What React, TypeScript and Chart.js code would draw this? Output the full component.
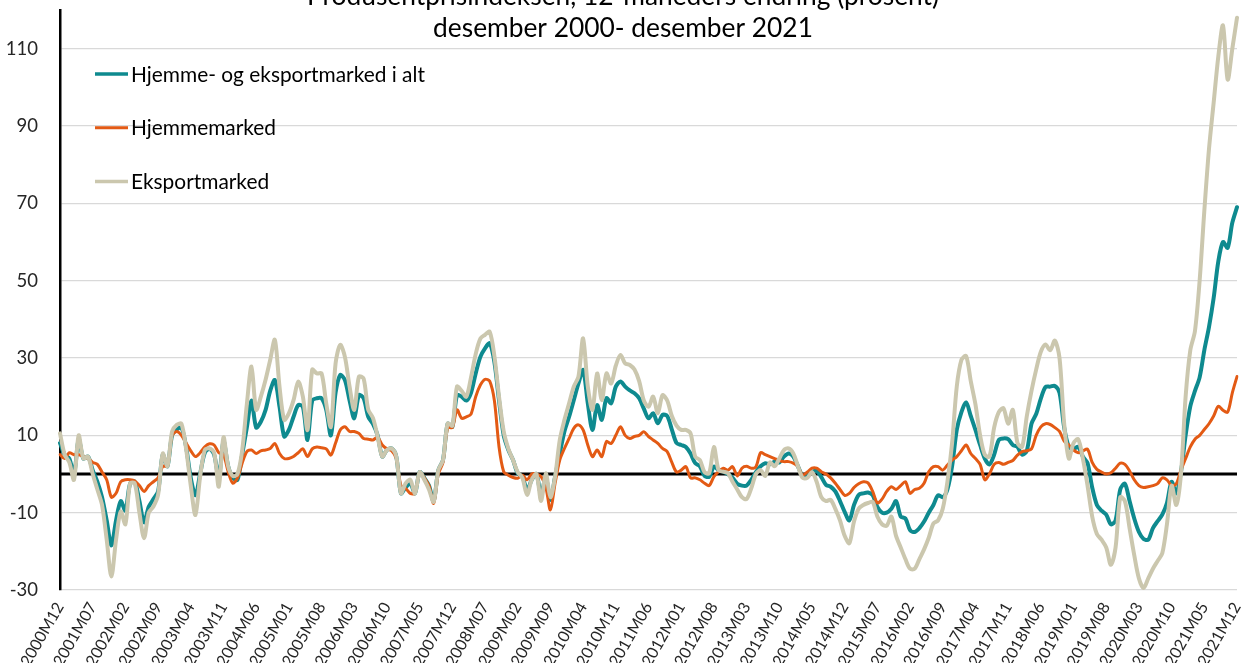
import React, { useEffect, useRef } from 'react';
import { Chart, registerables } from 'chart.js';

Chart.register(...registerables);

const titleLines = [
  'Produsentprisindeksen, 12-måneders endring (prosent)',
  'desember 2000- desember 2021',
];
const seriesNames = ['Hjemme- og eksportmarked i alt', 'Hjemmemarked', 'Eksportmarked'];
const seriesColors = ['#0e8a8f', '#e35a14', '#cbc7ae'];
const yTicks = [-30, -10, 10, 30, 50, 70, 90, 110];
const firstYear = 2000;
const firstMonth = 12;
const monthCount = 253;
const labelEvery = 7;

const months: string[] = [];
for (let k = 0; k < monthCount; k++) {
  const m0 = firstMonth - 1 + k;
  const yr = firstYear + Math.floor(m0 / 12);
  const mo = (m0 % 12) + 1;
  months.push(`${yr}M${mo < 10 ? '0' + mo : mo}`);
}

const totalValues = [
  8, 5, 4, 0, 9, 4, 4.5, 1, -2, -6, -12, -18.5, -12,
  -7, -9.5, -2.5, -2, -7, -12.5, -8.5, -6.5, -4.5, 5, 2, 10,
  11.5, 12, 7, -1, -5.5, 0, 5.5, 6.5, 5, -1, 8.5, 2,
  -1, -1.5, 5, 12, 19, 12, 13.5, 16.5, 21.5, 24.3, 17.4, 9.7,
  11.4, 14.8, 17.8, 17.4, 8.8, 19, 19.6, 19.6, 16.6, 10, 21, 25.6,
  24.3, 19, 14.4, 20.4, 19.6, 14.8, 13, 10, 4.5, 6.2, 6.6, 4.5,
  -5, -3.5, -2.5, -5, 0.5, -1, -3, -7, 1, 3.6, 13, 12.2,
  20.4, 20, 19, 21, 26, 30.3, 32.5, 33.8, 29, 19, 10, 6.2,
  3.6, 0.2, -0.7, -4.1, -1.5, 0, -5.4, -0.7, -6.7, -0.7, 5.3, 11,
  14.8, 19.1, 23.4, 26.9, 18.3, 11.4, 17.8, 14, 19.6, 18.3, 22.6, 23.9,
  22.6, 21.6, 20.9, 19.6, 16.9, 14.4, 15.7, 13.1, 15.3, 15, 11.5, 8,
  7.5, 7, 5.3, 2.8, 2, -0.5, -0.7, 1.9, 1, 0.6, 0, -1,
  -2.5, -3, -3, -1.5, 0.5, 2, 2.8, 2.5, 3.2, 3, 4.5, 5.3,
  4.5, 2, -0.5, -0.3, 0.5, 0.8, -0.8, -2.8, -3.3, -4.5, -7, -9.8,
  -12, -8, -5.4, -5, -4.8, -5.5, -8.5, -10, -10, -9, -7, -11,
  -11.5, -14.5, -15, -14, -12.3, -10, -8, -5.5, -6, -4, 2, 11.4,
  16, 18.5, 15, 11.4, 7.5, 4, 2.5, 5, 8.8, 9.2, 9, 7.5,
  7, 5, 6, 13, 15.5, 19.5, 22.5, 22.6, 22.8, 21, 12, 7,
  6.5, 7, 4.5, 2.8, -3.5, -8, -9.5, -10.5, -13, -12, -4, -2.5,
  -7, -11.5, -15, -16.8, -17, -14, -12.2, -10.5, -7.5, -2, -5, 0.5,
  10, 17.5, 21.5, 25, 32, 38, 45.5, 55, 60, 58.5, 65, 69,
];

const homeValues = [
  5, 4, 5.5, 5, 5, 4.5, 4, 3, 2.5, 0.5, -1.5, -6, -5,
  -2, -1.5, -1.5, -1.8, -3, -4.5, -3, -2, -1, 2, 2, 10,
  11, 10, 8, 6, 4.5, 5.5, 7, 7.8, 7.5, 5.5, 5, 0.6,
  -2.4, -1, 2.8, 5.8, 6.2, 5.3, 6, 6.2, 6.6, 7.9, 5.3, 4,
  4, 4.5, 5.5, 6.5, 4.5, 6.5, 7, 6.8, 6.5, 4.9, 8, 11.4,
  12.2, 11, 11, 10.5, 9.2, 9, 8.8, 9.5, 7.5, 6.5, 6, 4,
  -3, -3.7, -5, -5, 0.5, -1, -3, -7.6, 0, 3, 12, 12,
  16.6, 14.4, 14.8, 15.5, 20, 23, 24.5, 24, 19, 7, 0.6, -0.3,
  -0.9, -1.1, -0.3, -1.5, 0, 0, -0.7, -3.3, -9.3, -2.4, 3.6, 6.6,
  9.2, 11.8, 12.7, 11.4, 7.5, 4.5, 6.2, 4.5, 8.4, 7.9, 10, 12.2,
  10, 9.2, 9.7, 10, 10.9, 9.7, 8.8, 7.9, 6.6, 5.8, 3, 0.5,
  1, 1.9, -1, -1, -1.5, -2.4, -3, -0.7, 0.6, 1.5, 1, 1.9,
  -0.5, 1.5, 2, 1.5, 1.9, 5.5, 5, 4.5, 4, 3.5, 3.2, 3.2,
  2.8, 1.9, -0.3, 0.5, 1.5, 1.5, 0.6, 0, -1, -2.4, -4, -5.5,
  -5, -3.5, -2.5, -2, -2.3, -4.5, -7.5, -6.5, -4.5, -3.3, -4, -3,
  -2, -5, -4, -3.7, -2.4, 0.6, 1.9, 1.9, 1, 2.3, 3.6, 4.5,
  6, 7.5, 5.3, 4, 2.5, -1.5, 0, 2.5, 3, 2.5, 3, 3.5,
  4.9, 5.8, 6, 6.5, 10, 12.2, 13, 12.8, 12, 11, 8.5, 7.5,
  6.2, 5.5, 6, 6.4, 3, 1.2, 0.5, 0, 0.3, 1.5, 2.8, 2.5,
  0.8, -1.5, -3, -3.5, -3.3, -3, -2.5, -1, -1.5, -3, -2.5, 1,
  4, 7, 9, 10, 11.5, 13, 15, 17.5, 16.5, 16, 21, 25.2,
];

const exportValues = [
  10.5, 5, 3, -1.5, 10, 4, 4.5, 0, -4, -8, -17, -26.5, -17,
  -9.7, -13, -2.5, -2.4, -10, -16.6, -10, -8.4, -5.4, 5.3, 2, 11,
  12.7, 13, 6.5, -3, -10.6, -0.7, 6.2, 6.6, 5.5, -3.3, 9.5, 2,
  -0.5, 0, 6, 18, 27.8, 16.6, 20, 24.3, 29.5, 34.7, 22.6, 14,
  15.7, 19.1, 23.9, 20, 11.4, 27, 26, 26, 18.3, 12.2, 28.6, 33.4,
  30.3, 22.6, 16.6, 25.2, 24.7, 16.6, 14.5, 9.7, 4.5, 6.2, 6.6, 4.5,
  -5, -2.4, -1.5, -5, 0.5, -1.5, -4, -7.2, 1, 3.6, 13.1, 12.5,
  22.6, 21.5, 20, 25, 31, 35, 36, 36.8, 30.5, 20, 11, 6.5,
  3.6, 0.5, -1, -5.4, -1.5, 0, -7, 0.2, -6, -0.7, 8.8, 14,
  18.3, 22.6, 25.2, 35.1, 22.6, 16.6, 26, 19.1, 26, 23.4, 28, 30.8,
  28.6, 28.2, 27, 24, 19, 17.4, 20, 15.7, 20.4, 19, 15, 12.5,
  11.4, 11.4, 10.5, 4.5, 3.6, 0.5, 0.2, 7, 1, 0.6, 0.2, -2,
  -4, -6, -6.5, -3.7, 0, 1, -0.5, 3, 2, 4, 6.2, 6.6,
  5.3, 2, -1, -1, 0.5, -2, -6, -7, -6.7, -9, -12, -16,
  -17.9, -12.3, -9, -8, -7.5, -7.2, -11, -13, -13.4, -11, -16, -19,
  -22, -24.5, -24.5, -22, -19.5, -16.5, -12.8, -12, -9, -2, 8, 22.6,
  29.5, 30.5, 24, 18, 10, 5, 4.5, 12, 16, 17, 13, 16.6,
  8, 7, 15, 21.5, 27, 31.6, 33.5, 32, 34.5, 30, 13, 4,
  8, 9, 4, -3, -11, -15.5, -17, -19, -23.5, -19, -6, -7,
  -14, -21, -27, -29.5, -27, -24.5, -22.5, -20.5, -13, -3, -8, 0,
  20, 32, 37, 50, 68, 84, 96, 108, 116, 102, 110, 118,
];

const FONT = 'Lato, "Noto Sans", sans-serif';

function fitFont(ctx: CanvasRenderingContext2D, text: string, target: number) {
  ctx.font = `100px ${FONT}`;
  const w = ctx.measureText(text).width;
  return (100 * target) / w;
}

const zeroLinePlugin = {
  id: 'zeroLine',
  beforeDatasetsDraw(chart: any) {
    const { ctx, chartArea, scales } = chart;
    const py = scales.y.getPixelForValue(0);
    ctx.save();
    ctx.strokeStyle = '#000';
    ctx.lineWidth = 3;
    ctx.beginPath();
    ctx.moveTo(chartArea.left, py);
    ctx.lineTo(chartArea.right, py);
    ctx.stroke();
    ctx.restore();
  },
};

const titlePlugin = {
  id: 'clippedTitle',
  afterDraw(chart: any) {
    const { ctx } = chart;
    const cx = chart.width / 2 + 2;
    ctx.save();
    ctx.fillStyle = '#000';
    ctx.textAlign = 'center';
    ctx.textBaseline = 'alphabetic';
    const size = fitFont(ctx, titleLines[1], 380);
    ctx.font = `${size}px ${FONT}`;
    ctx.fillText(titleLines[0], cx, 5);
    ctx.fillText(titleLines[1], cx, 37);
    ctx.restore();
  },
};

const legendPlugin = {
  id: 'insideLegend',
  afterDraw(chart: any) {
    const { ctx } = chart;
    ctx.save();
    const size = fitFont(ctx, seriesNames[0], 294);
    const widths = [3.5, 3, 3.5];
    seriesNames.forEach((name, i) => {
      const y = 74 + i * 53.7;
      ctx.strokeStyle = seriesColors[i];
      ctx.lineWidth = widths[i];
      ctx.beginPath();
      ctx.moveTo(95, y);
      ctx.lineTo(128, y);
      ctx.stroke();
      ctx.fillStyle = '#000';
      ctx.font = `${size}px ${FONT}`;
      ctx.textAlign = 'left';
      ctx.textBaseline = 'middle';
      ctx.fillText(name, 131, y + 1);
    });
    ctx.restore();
  },
};

export default function App() {
  const ref = useRef<HTMLCanvasElement>(null);
  useEffect(() => {
    if (!ref.current) return;
    const lineWidths = [4, 3, 4];
    const orders = [2, 1, 0];
    const values = [totalValues, homeValues, exportValues];
    const chart = new Chart(ref.current, {
      type: 'line',
      data: {
        labels: months,
        datasets: seriesNames.map((name, i) => ({
          label: name,
          data: values[i],
          borderColor: seriesColors[i],
          backgroundColor: seriesColors[i],
          borderWidth: lineWidths[i],
          pointRadius: 0,
          tension: 0.3,
          fill: false,
          order: orders[i],
          borderJoinStyle: 'round' as const,
          borderCapStyle: 'round' as const,
        })),
      },
      options: {
        animation: false,
        responsive: true,
        maintainAspectRatio: false,
        layout: { padding: { top: 10, right: 5, left: 0, bottom: 0 } },
        plugins: {
          legend: { display: false },
          title: { display: false },
          tooltip: { enabled: false },
        },
        scales: {
          x: {
            type: 'category',
            offset: false,
            grid: { display: false, drawTicks: false },
            border: { display: false },
            afterBuildTicks: (scale: any) => {
              scale.ticks = scale.ticks.filter((_t: any, i: number) => i % labelEvery === 0);
            },
            afterFit: (scale: any) => {
              scale.height = 73;
              scale.paddingLeft = 0;
              scale.paddingRight = 0;
            },
            ticks: {
              autoSkip: false,
              maxRotation: 60,
              minRotation: 60,
              padding: 9,
              color: '#262626',
              font: { family: FONT, size: 16 },
            },
          },
          y: {
            type: 'linear',
            min: -30,
            max: 120,
            afterBuildTicks: (scale: any) => {
              scale.ticks = yTicks.map((v) => ({ value: v }));
            },
            afterFit: (scale: any) => {
              scale.width = 60;
              scale.paddingTop = 0;
              scale.paddingBottom = 0;
            },
            grid: { color: '#d9d9d9', lineWidth: 1.3, drawTicks: false },
            border: { display: true, color: '#000', width: 2.5 },
            ticks: {
              padding: 22,
              color: '#262626',
              font: { family: FONT, size: 18.5 },
            },
          },
        },
      },
      plugins: [zeroLinePlugin, titlePlugin, legendPlugin],
    } as any);
    return () => chart.destroy();
  }, []);
  return (
    <div style={{ position: 'fixed', left: 0, top: 0, width: 1242, height: 663, background: '#fff' }}>
      <canvas ref={ref} />
    </div>
  );
}
